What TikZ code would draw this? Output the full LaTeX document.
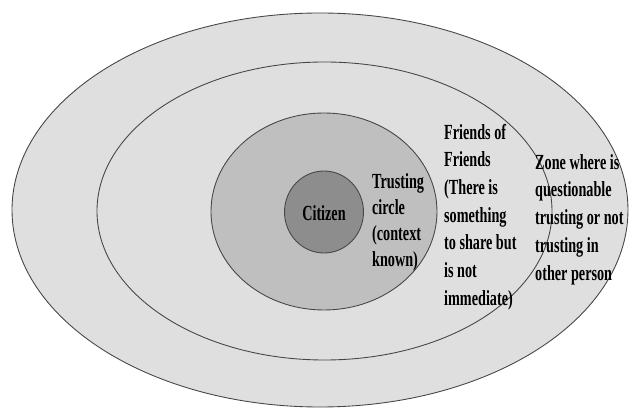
\documentclass[tikz,border=0pt]{standalone}
\usepackage{fontspec}
\setmainfont{Liberation Serif}[FakeStretch=0.66]
\usepackage{xcolor}
\usepackage{tikz}
\usetikzlibrary{positioning}
\definecolor{outergray}{RGB}{223,223,223}
\definecolor{trustgray}{RGB}{191,191,191}
\definecolor{citizengray}{RGB}{141,141,141}
\definecolor{rimgray}{RGB}{70,70,70}

\begin{document}
\begin{tikzpicture}[transform shape,scale=1,
	rim/.style={draw=rimgray,line width=1pt},
	zonetext/.style={align=left,inner sep=0pt,anchor=west,font=\fontsize{24.5}{31.5}\selectfont\bfseries}]
	\useasboundingbox (-12.8,-7.96) rectangle (12.36,8.44);
	\draw[rim,fill=outergray] (0,0.04) ellipse (12.32 and 7.88);
	\draw[rim,fill=outergray] (0.18,0) ellipse (9.1 and 5.96);
	\draw[rim,fill=trustgray] (0.16,-0.02) ellipse (4.52 and 3.94);
	\draw[rim,fill=citizengray] (0.16,-0.04) ellipse (1.58 and 1.64);
	\node[zonetext,anchor=center] (citizen) at (0.16,-0.08) {Citizen};
	\node[zonetext,font=\fontsize{24.5}{29.6}\selectfont\bfseries] (trusting) at (2.08,-0.46) {Trusting\\circle\\(context\\known)};
	\node[zonetext] (friends) at (4.96,-0.24) {Friends of\\Friends\\(There is\\something\\to share but\\is not\\immediate)};
	\node[zonetext] (zone) at (8.6,-0.34) {Zone where is\\questionable\\trusting or not\\trusting in\\other person};
\end{tikzpicture}
\end{document}
